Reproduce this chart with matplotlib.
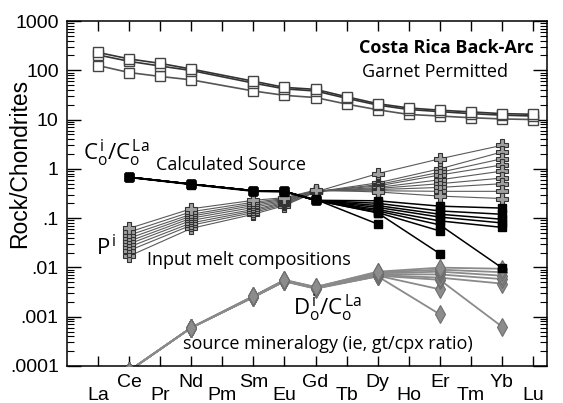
import numpy as np
import matplotlib
matplotlib.use('Agg')
import matplotlib.pyplot as plt
from matplotlib.ticker import LogLocator, FixedLocator, FuncFormatter, NullFormatter

nan = np.nan

# rare earth elements, index 0..14
ree = ['La', 'Ce', 'Pr', 'Nd', 'Pm', 'Sm', 'Eu', 'Gd', 'Tb', 'Dy', 'Ho', 'Er', 'Tm', 'Yb', 'Lu']

# lava samples (all REE but Pm)
rock_elems = ['La', 'Ce', 'Pr', 'Nd', 'Sm', 'Eu', 'Gd', 'Tb', 'Dy', 'Ho', 'Er', 'Tm', 'Yb', 'Lu']
rock_a = [230, 170, 138, 106, 60, 45, 41, 29, 21, 17.2, 15.5, 14.3, 13.2, 12.8]
rock_b = [205, 152, 122, 99, 55, 42, 38, 27, 19.7, 16, 14.5, 13.2, 12.3, 11.8]
rock_c = [125, 90, 75, 64, 38, 31, 28, 20.6, 15.8, 12.7, 11.8, 10.9, 10.3, 10.0]

# model elements
model_elems = ['Ce', 'Nd', 'Sm', 'Eu', 'Gd', 'Dy', 'Er', 'Yb']

# Calculated source  Co^i/Co^La
source = [
    [0.68, 0.49, 0.36, 0.35, 0.24, 0.076, nan, nan],
    [0.67, 0.49, 0.36, 0.35, 0.23, 0.13, 0.055, nan],
    [0.67, 0.48, 0.35, 0.34, 0.23, 0.128, 0.019, nan],
    [0.68, 0.49, 0.36, 0.35, 0.23, 0.14, 0.073, 0.0098],
    [0.68, 0.49, 0.36, 0.35, 0.23, 0.15, 0.088, 0.065],
    [0.68, 0.49, 0.36, 0.35, 0.23, 0.165, 0.105, 0.08],
    [0.68, 0.49, 0.36, 0.35, 0.23, 0.18, 0.12, 0.095],
    [0.68, 0.49, 0.36, 0.35, 0.23, 0.20, 0.14, 0.12],
    [0.68, 0.49, 0.36, 0.35, 0.23, 0.225, 0.175, 0.16],
]

# Input melt compositions  P^i
melts = [
    [0.017, 0.062, 0.12, 0.18, 0.34, 0.80, 1.6, 3.0],
    [0.022, 0.072, 0.13, 0.19, 0.34, 0.52, 1.0, 2.2],
    [0.026, 0.080, 0.14, 0.20, 0.34, 0.48, 0.85, 1.6],
    [0.030, 0.090, 0.15, 0.21, 0.35, 0.45, 0.75, 1.2],
    [0.034, 0.100, 0.165, 0.22, 0.35, 0.42, 0.60, 0.9],
    [0.039, 0.110, 0.18, 0.23, 0.35, 0.40, 0.50, 0.65],
    [0.045, 0.120, 0.195, 0.24, 0.36, 0.38, 0.42, 0.5],
    [0.052, 0.135, 0.21, 0.25, 0.36, 0.36, 0.35, 0.35],
    [0.062, 0.155, 0.23, 0.26, 0.37, 0.34, 0.28, 0.25],
]

# Do^i/Co^La  source mineralogy
bulk_d = [
    [8e-5, 0.0006, 0.0025, 0.0053, 0.0038, 0.0066, nan, nan],
    [8e-5, 0.0006, 0.0025, 0.0053, 0.0038, 0.0068, 0.0036, nan],
    [8e-5, 0.0006, 0.0025, 0.0052, 0.0037, 0.0066, 0.00112, nan],
    [8e-5, 0.0006, 0.0025, 0.0053, 0.0038, 0.0068, 0.0056, 0.00063],
    [8e-5, 0.0006, 0.0025, 0.0053, 0.0038, 0.0070, 0.0062, 0.0047],
    [8e-5, 0.0006, 0.0026, 0.0054, 0.0039, 0.0073, 0.0072, 0.0058],
    [8e-5, 0.0006, 0.0026, 0.0055, 0.0039, 0.0076, 0.0082, 0.0068],
    [8e-5, 0.0006, 0.0026, 0.0055, 0.0040, 0.0079, 0.0090, 0.0080],
    [8e-5, 0.0006, 0.0026, 0.0056, 0.0040, 0.0082, 0.0099, 0.0094],
]

ytick_vals = [1e-4, 1e-3, 1e-2, 1e-1, 1, 10, 100, 1000]
ytick_labels = ['.0001', '.001', '.01', '.1', '1', '10', '100', '1000']

rock_x = [ree.index(e) for e in rock_elems]
model_x = [ree.index(e) for e in model_elems]

fig = plt.figure(figsize=(5.63, 4.03), dpi=100)
ax = fig.add_axes([67/563, 1 - 366/403, 480/563, 345/403])
ax.set_yscale('log')

for row in bulk_d:
    ax.plot(model_x, row, '-', color='#8a8a8a', lw=1.3, zorder=2)
    ax.plot(model_x, row, 'd', ms=9, mfc='#8c8c8c', mec='#6e6e6e', mew=0.8, zorder=3)

for row in melts:
    ax.plot(model_x, row, '-', color='#5a5a5a', lw=0.8, zorder=4)
    ax.plot(model_x, row, 'P', ms=8, mfc='#a0a0a0', mec='#333333', mew=0.8, zorder=5)

for row in source:
    ax.plot(model_x, row, '-s', color='black', lw=1.1, ms=6, zorder=6)

for row, c in zip([rock_c, rock_b, rock_a], ['#555555', '#333333', '#333333']):
    ax.plot(rock_x, row, '-', color=c, lw=1.2, zorder=7)
    ax.plot(rock_x, row, 's', ms=7.5, mfc='white', mec='#444444', mew=1.0, zorder=8)

ax.set_xlim(-1, 14.45)
ax.set_ylim(1e-4, 1e3)

ax.yaxis.set_major_locator(FixedLocator(ytick_vals))
ax.yaxis.set_major_formatter(FuncFormatter(lambda v, p: ytick_labels[ytick_vals.index(v)] if v in ytick_vals else ''))
ax.yaxis.set_minor_locator(LogLocator(base=10, subs=np.arange(2, 10), numticks=20))
ax.yaxis.set_minor_formatter(NullFormatter())
ax.set_xticks(range(len(ree)))
ax.set_xticklabels([])

for s in ax.spines.values():
    s.set_linewidth(1.1)
ax.tick_params(axis='y', which='major', direction='in', length=10, width=1, left=True, right=True,
               labelsize=14, pad=6)
ax.tick_params(axis='y', which='minor', direction='in', length=5, width=0.8, left=True, right=True)
ax.tick_params(axis='x', which='major', direction='in', length=7, width=1, top=True, bottom=True)
for lab in ax.get_yticklabels():
    lab.set_fontfamily('Liberation Sans')

# staggered element names
tr = ax.get_xaxis_transform()
for i, name in enumerate(ree):
    yb = -34/345 if i % 2 == 0 else -20.7/345
    ax.text(i, yb, name, transform=tr, ha='center', va='baseline', fontsize=14,
            family='Liberation Sans', clip_on=False)

fig.text(20/563, 1 - 163/403, 'Rock/Chondrites', rotation=90, ha='center', va='center',
         fontsize=16.5, family='Liberation Sans')

fnt = 'Open Sans'
matplotlib.rcParams['mathtext.fontset'] = 'custom'
matplotlib.rcParams['mathtext.rm'] = fnt
matplotlib.rcParams['mathtext.it'] = fnt

def fx(px):
    return (px - 67) / 480

def fy(py):
    return (366 - py) / 345

ax.text(fx(446), fy(48), 'Costa Rica Back-Arc', transform=ax.transAxes, ha='center', va='center',
        fontsize=13, fontweight='bold', family=fnt)
ax.text(fx(435), fy(72), 'Garnet Permitted', transform=ax.transAxes, ha='center', va='center',
        fontsize=13, family=fnt)
ax.text(fx(83), fy(160), r'$\mathregular{C_o^{\,i}/C_o^{\,La}}$', transform=ax.transAxes,
        ha='left', va='baseline', fontsize=16, family=fnt)
ax.text(fx(156), fy(170), 'Calculated Source', transform=ax.transAxes, ha='left', va='baseline',
        fontsize=13, family=fnt)
ax.text(fx(96), fy(255), r'$\mathregular{P^{\,i}}$', transform=ax.transAxes, ha='left', va='baseline',
        fontsize=16, family=fnt)
ax.text(fx(147), fy(265), 'Input melt compositions', transform=ax.transAxes, ha='left', va='baseline',
        fontsize=13, family=fnt)
ax.text(fx(293), fy(315), r'$\mathregular{D_o^{\,i}/C_o^{\,La}}$', transform=ax.transAxes,
        ha='left', va='baseline', fontsize=16, family=fnt)
ax.text(fx(183), fy(349), 'source mineralogy (ie, gt/cpx ratio)', transform=ax.transAxes,
        ha='left', va='baseline', fontsize=13, family=fnt)

fig.savefig('out.png', dpi=100)
